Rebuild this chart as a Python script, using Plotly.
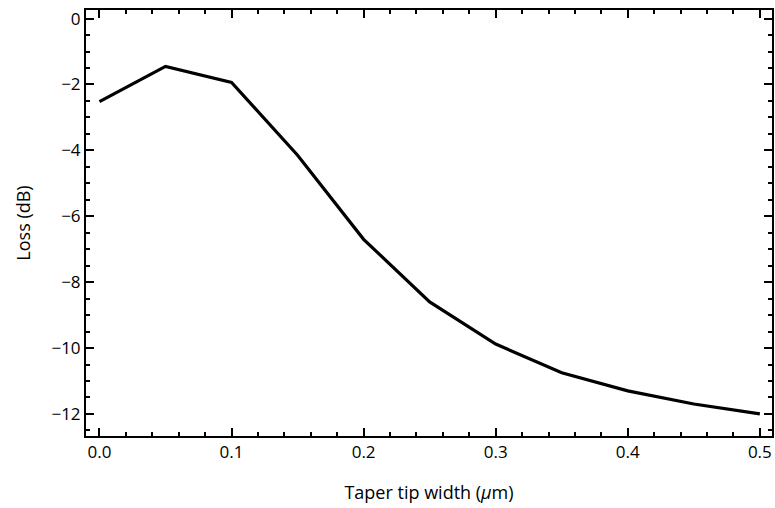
import plotly.graph_objects as go

tip_width = [0.0, 0.05, 0.1, 0.15, 0.2, 0.25, 0.3, 0.35, 0.4, 0.45, 0.5]
loss_db = [-2.52, -1.45, -1.94, -4.15, -6.7, -8.6, -9.88, -10.75, -11.3, -11.7, -12.0]

x_ticks = [0.0, 0.1, 0.2, 0.3, 0.4, 0.5]
x_labels = ["0.0", "0.1", "0.2", "0.3", "0.4", "0.5"]
y_ticks = [0, -2, -4, -6, -8, -10, -12]
y_labels = ["0", "−2", "−4", "−6", "−8", "−10", "−12"]

fig = go.Figure()
fig.add_trace(go.Scatter(x=tip_width, y=loss_db, mode="lines",
                         line=dict(color="black", width=3.2), showlegend=False))

tick_font = dict(family="Open Sans, sans-serif", size=17, color="black")
title_font = dict(family="Open Sans, sans-serif", size=18, color="black")
axis_common = dict(showgrid=False, zeroline=False, showline=True, linecolor="black",
                   linewidth=2, mirror="allticks", ticks="inside", ticklen=8,
                   tickwidth=2, tickcolor="black", tickfont=tick_font)

fig.update_layout(
    width=775, height=508,
    margin=dict(l=86, r=1, t=10, b=72),
    paper_bgcolor="white", plot_bgcolor="white",
    xaxis=dict(range=[-0.0102, 0.5092], tickvals=x_ticks, ticktext=x_labels,
               minor=dict(dtick=0.02, tick0=0, ticks="inside", ticklen=4, tickwidth=1.5, tickcolor="black"),
               title=dict(text="Taper tip width (<i>μ</i>m)", font=title_font, standoff=24),
               **axis_common),
    yaxis=dict(range=[-12.67, 0.26], tickvals=y_ticks, ticktext=y_labels,
               minor=dict(dtick=0.5, tick0=0, ticks="inside", ticklen=4, tickwidth=1.5, tickcolor="black"),
               title=dict(text="Loss (dB)", font=title_font, standoff=16),
               **axis_common),
)

fig.write_html("out.html")
